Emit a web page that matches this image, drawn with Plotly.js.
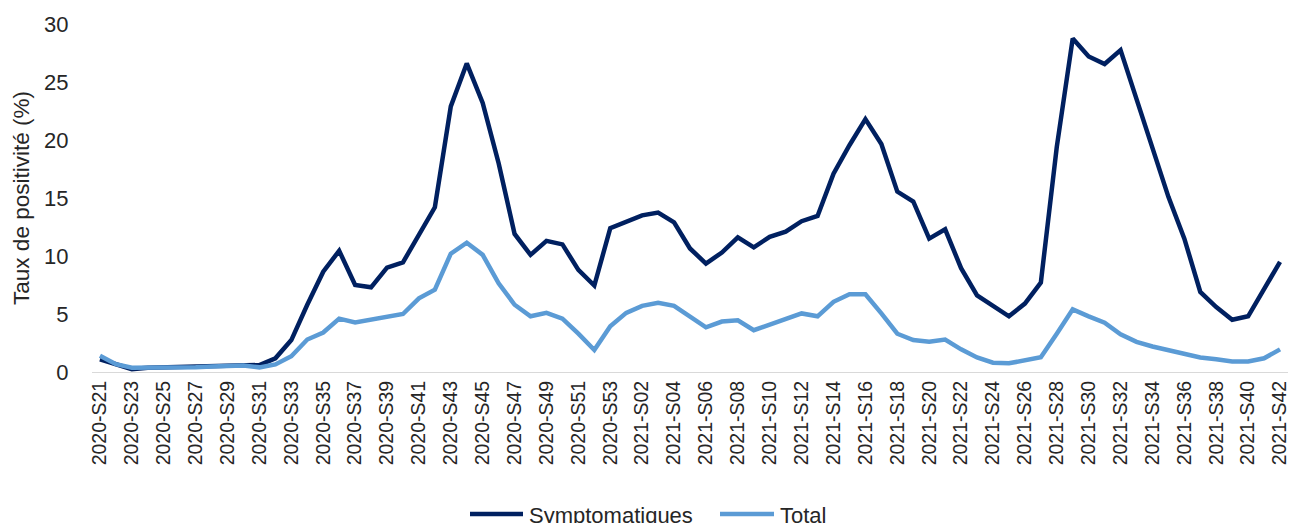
<!DOCTYPE html>
<html>
<head>
<meta charset="utf-8">
<script src="https://cdn.plot.ly/plotly-3.0.1.min.js"></script>
<style>
  html, body { margin: 0; padding: 0; background: #fff; }
  #chart { width: 1290px; height: 523px; }
</style>
</head>
<body>
<div id="chart"></div>
<script>
// Weeks 2020-S21 .. 2020-S53, then 2021-S01 .. 2021-S42
const weeks = [
  "2020-S21","2020-S22","2020-S23","2020-S24","2020-S25","2020-S26","2020-S27","2020-S28","2020-S29","2020-S30",
  "2020-S31","2020-S32","2020-S33","2020-S34","2020-S35","2020-S36","2020-S37","2020-S38","2020-S39","2020-S40",
  "2020-S41","2020-S42","2020-S43","2020-S44","2020-S45","2020-S46","2020-S47","2020-S48","2020-S49","2020-S50",
  "2020-S51","2020-S52","2020-S53",
  "2021-S01","2021-S02","2021-S03","2021-S04","2021-S05","2021-S06","2021-S07","2021-S08","2021-S09","2021-S10",
  "2021-S11","2021-S12","2021-S13","2021-S14","2021-S15","2021-S16","2021-S17","2021-S18","2021-S19","2021-S20",
  "2021-S21","2021-S22","2021-S23","2021-S24","2021-S25","2021-S26","2021-S27","2021-S28","2021-S29","2021-S30",
  "2021-S31","2021-S32","2021-S33","2021-S34","2021-S35","2021-S36","2021-S37","2021-S38","2021-S39","2021-S40",
  "2021-S41","2021-S42"
];

const symptomatiques = [
  1.1, 0.66, 0.25, 0.37, 0.4, 0.5, 0.5, 0.5, 0.55, 0.55,
  0.6, 1.18, 2.75, 5.8, 8.65, 10.45, 7.5, 7.3, 9.0, 9.45,
  11.8, 14.2, 22.9, 26.6, 23.2, 18.0, 11.9, 10.1, 11.3, 11.0,
  8.8, 7.45, 12.4,
  12.95, 13.5, 13.75, 12.9, 10.65, 9.35, 10.3, 11.6, 10.75, 11.65,
  12.1, 13.0, 13.45, 17.1, 19.55, 21.8, 19.65, 15.55, 14.7, 11.5,
  12.3, 8.95, 6.6, 5.75, 4.8, 5.9, 7.7, 19.4, 28.75, 27.2,
  26.55, 27.75, 23.45, 19.3, 15.1, 11.5, 6.9, 5.6, 4.5, 4.8,
  7.2, 9.5
];

const total = [
  1.4, 0.67, 0.37, 0.37, 0.4, 0.4, 0.42, 0.48, 0.52, 0.55,
  0.4, 0.65, 1.36, 2.8, 3.4, 4.6, 4.28, 4.55, 4.75, 5.0,
  6.35, 7.1, 10.2, 11.15, 10.1, 7.65, 5.8, 4.8, 5.1, 4.6,
  3.3, 1.9, 3.95,
  5.1, 5.7, 5.97, 5.7, 4.75, 3.85, 4.35, 4.45, 3.6, 4.05,
  4.6, 5.05, 4.8, 6.05, 6.7, 6.7, 5.05, 3.3, 2.75, 2.6,
  2.8, 1.95, 1.25, 0.8, 0.75, 0.97, 1.27, 3.3, 5.4, 4.8,
  4.25, 3.25, 2.6, 2.2, 1.9, 1.55, 1.25, 1.1, 0.9, 0.9,
  1.18, 1.95
];

const seriesNames = ['Symptomatiques', 'Total'];
const seriesColors = ['#002060', '#5B9BD5'];
const tickLabels = weeks.filter((w, i) => i % 2 === 0);
const yTicks = [0, 5, 10, 15, 20, 25, 30];

const FONT = '"Liberation Sans", Arial, sans-serif';
const TEXT = '#262626';

const traces = [symptomatiques, total].map((vals, k) => ({
  x: weeks, y: vals, name: seriesNames[k],
  type: 'scatter', mode: 'lines',
  line: { color: seriesColors[k], width: 4.5, shape: 'linear' },
  showlegend: false,
  hoverinfo: 'x+y'
}));

// Legend drawn in paper coordinates (the reference legend sits partly past the bottom edge)
const W = 1196, H = 348, L = 92, T = 24;
const px = v => (v - L) / W;
const py = v => (T + H - v) / H;
const legendItems = [
  { x0: 470, x1: 523, tx: 527 },
  { x0: 720, x1: 774, tx: 778 }
];
const legendY = 514;
const shapes = legendItems.map((it, k) => ({
  type: 'line', xref: 'paper', yref: 'paper',
  x0: px(it.x0), x1: px(it.x1), y0: py(legendY), y1: py(legendY),
  line: { color: seriesColors[k], width: 4.5 }
}));
const annotations = legendItems.map((it, k) => ({
  xref: 'paper', yref: 'paper',
  x: px(it.tx), y: py(legendY + 1), xanchor: 'left', yanchor: 'middle',
  text: seriesNames[k], showarrow: false,
  font: { family: FONT, size: 22, color: TEXT }
}));

const layout = {
  width: 1290, height: 523,
  margin: { l: L, r: 2, t: T, b: 523 - T - H },
  paper_bgcolor: '#fff', plot_bgcolor: '#fff',
  font: { family: FONT, color: TEXT },
  showlegend: false,
  shapes: shapes,
  annotations: annotations,
  xaxis: {
    type: 'category',
    categoryorder: 'array', categoryarray: weeks,
    range: [-0.5, weeks.length - 0.5],
    tickmode: 'array', tickvals: tickLabels, ticktext: tickLabels,
    tickangle: -90,
    tickfont: { family: FONT, size: 19.5, color: TEXT },
    showgrid: false, zeroline: false,
    showline: true, linecolor: '#D9D9D9', linewidth: 1,
    ticks: '', fixedrange: true
  },
  yaxis: {
    range: [0, 30],
    tickmode: 'array', tickvals: yTicks, ticktext: yTicks.map(String),
    tickfont: { family: FONT, size: 22, color: TEXT },
    showgrid: false, zeroline: false, showline: false,
    ticks: 'outside', ticklen: 18, tickcolor: 'rgba(0,0,0,0)',
    title: { text: 'Taux de positivité (%)', font: { family: FONT, size: 22.5, color: TEXT }, standoff: 8 },
    fixedrange: true
  }
};

Plotly.newPlot('chart', traces, layout, { displayModeBar: false, staticPlot: true });
</script>
</body>
</html>
